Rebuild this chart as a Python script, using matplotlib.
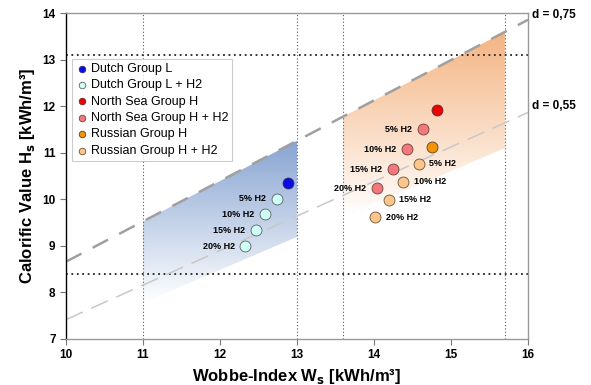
import matplotlib.pyplot as plt
import numpy as np
from matplotlib.colors import LinearSegmentedColormap
from matplotlib.patches import Polygon

plt.rcParams['font.family'] = ['Liberation Sans', 'DejaVu Sans']

# data
dutch_l = (12.88, 10.36)
dutch_h2_w = [12.74, 12.59, 12.47, 12.33]
dutch_h2_h = [10.01, 9.68, 9.34, 8.99]
ns_h = (14.82, 11.92)
ns_h2_w = [14.63, 14.43, 14.25, 14.04]
ns_h2_h = [11.50, 11.08, 10.65, 10.24]
ru_h = (14.75, 11.13)
ru_h2_w = [14.58, 14.38, 14.19, 14.01]
ru_h2_h = [10.76, 10.38, 9.99, 9.62]
h2_labels = ['5% H2', '10% H2', '15% H2', '20% H2']

d_lines = [0.75, 0.55]
d_lower = 0.5
vlines = [11, 13, 13.6, 15.7]
hlines = [8.4, 13.1]
blue_range = (11, 13)
orange_range = (13.6, 15.7)

fig = plt.figure(figsize=(5.91, 3.85), dpi=100)
ax = fig.add_axes([0.1117, 0.1195, 0.7817, 0.8465])


def gradient_band(x0, x1, top_color):
    xs = np.array([x0, x1])
    top = xs * np.sqrt(0.75)
    bot = xs * np.sqrt(d_lower)
    verts = [(x0, bot[0]), (x1, bot[1]), (x1, top[1]), (x0, top[0])]
    poly = Polygon(verts, closed=True, facecolor='none', edgecolor='none')
    ax.add_patch(poly)
    cmap = LinearSegmentedColormap.from_list('g', ['white', top_color])
    grad = np.linspace(0, 1, 256).reshape(-1, 1)
    im = ax.imshow(grad, extent=[x0, x1, bot.min(), top.max()], origin='lower',
                   cmap=cmap, aspect='auto', zorder=0.5)
    im.set_clip_path(poly)


gradient_band(*blue_range, '#88a4d2')
gradient_band(*orange_range, '#f4b482')
ax.set_xlim(10, 16)
ax.set_ylim(7, 14)

for xv in vlines:
    ax.axvline(xv, color='#555555', linestyle=(0, (1, 2)), linewidth=0.8, zorder=1)
for yv in hlines:
    ax.axhline(yv, color='#222222', linestyle=(0, (1, 2)), linewidth=1.3, zorder=1)

wx = np.array([10, 16])
ax.plot(wx, wx * np.sqrt(d_lines[0]), color='#a0a0a0', linewidth=1.8,
        dashes=(7, 5), zorder=2)
ax.plot(wx, wx * np.sqrt(d_lines[1]), color='#c8c8c8', linewidth=1.1,
        dashes=(12, 6), zorder=2)
ax.text(1.008, 13.95, 'd = 0,75', transform=ax.get_yaxis_transform(),
        fontsize=8.5, fontweight='bold', va='center', ha='left')
ax.text(1.008, 12.0, 'd = 0,55', transform=ax.get_yaxis_transform(),
        fontsize=8.5, fontweight='bold', va='center', ha='left')

ms = 62
ax.scatter(*dutch_l, s=ms, color='#0a0ae6', edgecolor='#303060', linewidth=0.6,
           zorder=5, label='Dutch Group L')
ax.scatter(dutch_h2_w, dutch_h2_h, s=ms, color='#cdfff6', edgecolor='#606060',
           linewidth=0.6, zorder=5, label='Dutch Group L + H2')
ax.scatter(*ns_h, s=ms, color='#ee0000', edgecolor='#603030', linewidth=0.6,
           zorder=5, label='North Sea Group H')
ax.scatter(ns_h2_w, ns_h2_h, s=ms, color='#f2787c', edgecolor='#704040',
           linewidth=0.6, zorder=5, label='North Sea Group H + H2')
ax.scatter(*ru_h, s=ms, color='#f59300', edgecolor='#604020', linewidth=0.6,
           zorder=5, label='Russian Group H')
ax.scatter(ru_h2_w, ru_h2_h, s=ms, color='#fbc68c', edgecolor='#705030',
           linewidth=0.6, zorder=5, label='Russian Group H + H2')

for xv, yv, lab in zip(dutch_h2_w, dutch_h2_h, h2_labels):
    ax.text(xv - 0.14, yv, lab, fontsize=6.5, fontweight='bold', ha='right', va='center')
for xv, yv, lab in zip(ns_h2_w, ns_h2_h, h2_labels):
    ax.text(xv - 0.14, yv, lab, fontsize=6.5, fontweight='bold', ha='right', va='center')
for xv, yv, lab in zip(ru_h2_w, ru_h2_h, h2_labels):
    ax.text(xv + 0.14, yv, lab, fontsize=6.5, fontweight='bold', ha='left', va='center')

leg = ax.legend(loc='upper left', bbox_to_anchor=(0.005, 0.87), fontsize=9,
                frameon=True, fancybox=False, edgecolor='#c0c0c0',
                handletextpad=0.2, borderpad=0.3, labelspacing=0.35,
                handlelength=1.0, markerscale=0.6, borderaxespad=0.3)
leg.get_frame().set_linewidth(0.8)

ax.set_xticks(np.arange(10, 17, 1))
ax.set_yticks(np.arange(7, 15, 1))
ax.tick_params(labelsize=8.5, length=4, width=0.8, color='#777777')
for lab in ax.get_xticklabels() + ax.get_yticklabels():
    lab.set_fontweight('bold')

ax.spines['left'].set_color('black')
ax.spines['bottom'].set_color('#999999')
ax.spines['top'].set_color('#999999')
ax.spines['right'].set_color('#999999')
for s in ax.spines.values():
    s.set_linewidth(1.0)

ax.set_xlabel('Wobbe-Index W$_\\mathbf{s}$ [kWh/m³]', fontsize=12, fontweight='bold')
ax.set_ylabel('Calorific Value H$_\\mathbf{s}$ [kWh/m³]', fontsize=12,
              fontweight='bold', family=['Liberation Sans Narrow', 'Liberation Sans'])

fig.savefig('out.png', dpi=100, facecolor='white')
